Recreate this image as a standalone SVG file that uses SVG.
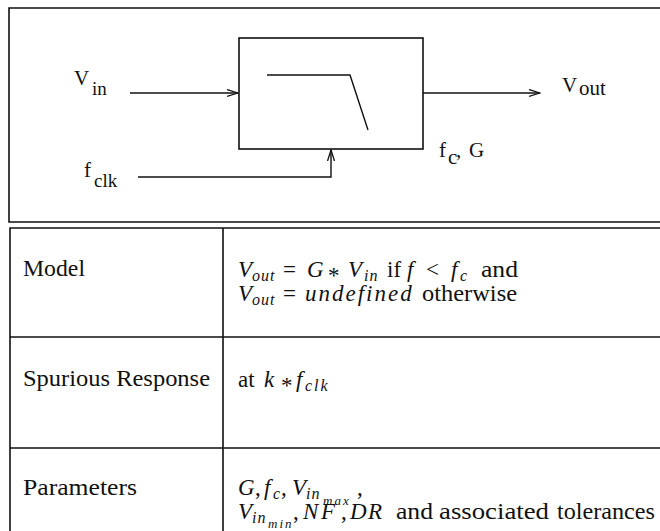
<svg xmlns="http://www.w3.org/2000/svg" width="660" height="531" viewBox="0 0 660 531" font-family="Liberation Serif, serif">
<style>
text{fill:#111}
.frame{fill:none;stroke:#111;stroke-width:1.6}
.ln{fill:none;stroke:#111;stroke-width:1.4}
.lbl{font-size:21px}
.sub{font-size:19px}
.t{font-size:23px}
.i{font-style:italic}
.s{font-size:16px;font-style:italic}
.ss{font-size:13px;font-style:italic;letter-spacing:2px}
</style>
<defs>
<marker id="ah" markerWidth="12" markerHeight="9" refX="11" refY="4" orient="auto" markerUnits="userSpaceOnUse">
<path d="M0,0.5 L11,4 L0,7.5" fill="none" stroke="#111" stroke-width="1.3"/>
</marker>
</defs>
<rect width="660" height="531" fill="#fff"/>

<g id="panel">
<path class="frame" d="M670,8 H9 V222 H670"/>
</g>

<g id="filter">
<rect x="239" y="38" width="184" height="111" class="frame"/>
<polyline class="ln" points="267,75 350,75 368,130"/>
</g>

<g id="vin-label">
<text class="lbl" x="74" y="85">V</text>
<text class="lbl sub" x="92" y="95">in</text>
</g>
<g id="fclk-label">
<text class="lbl" x="84" y="177">f</text>
<text class="lbl sub" x="94" y="187">clk</text>
</g>
<g id="vout-label">
<text class="lbl" x="562" y="92">V</text>
<text class="lbl" x="579" y="95" font-size="19">out</text>
</g>
<g id="fcg-label">
<text class="lbl" x="439" y="157">f</text>
<text class="lbl" x="448" y="164" font-size="16">c</text>
<text class="lbl" x="456" y="157">,</text>
<text class="lbl" x="469" y="157">G</text>
</g>

<g id="connectors">
<line class="ln" x1="130" y1="93" x2="238" y2="93" marker-end="url(#ah)"/>
<line class="ln" x1="423" y1="93" x2="540" y2="93" marker-end="url(#ah)"/>
<polyline class="ln" points="138,177 331,177 331,150" marker-end="url(#ah)"/>
</g>

<g id="table">
<path class="frame" d="M670,228 H10 V531 M223,228 V531 M10,337 H670 M10,448 H670"/>
</g>

<g id="row-model">
<text class="t" x="23" y="276" textLength="62" lengthAdjust="spacingAndGlyphs">Model</text>
<text class="t i" x="238" y="277">V</text>
<text class="t s" x="252" y="281" letter-spacing="1">out</text>
<text class="t" x="283" y="277">=</text>
<text class="t i" x="307" y="277">G</text>
<text class="t" x="328" y="283">*</text>
<text class="t i" x="348" y="277">V</text>
<text class="t s" x="364" y="281" letter-spacing="1">in</text>
<text class="t" x="387" y="277">if</text>
<text class="t i" x="407" y="277">f</text>
<text class="t" x="426" y="277">&lt;</text>
<text class="t i" x="451" y="277">f</text>
<text class="t s" x="460" y="281">c</text>
<text class="t" x="481" y="277" textLength="37" lengthAdjust="spacingAndGlyphs">and</text>
<text class="t i" x="238" y="301">V</text>
<text class="t s" x="252" y="305" letter-spacing="1">out</text>
<text class="t" x="283" y="301">=</text>
<text class="t i" x="305" y="301" letter-spacing="2">undefined</text>
<text class="t" x="422" y="301" textLength="95" lengthAdjust="spacingAndGlyphs">otherwise</text>
</g>

<g id="row-spurious">
<text class="t" x="23" y="386" textLength="187" lengthAdjust="spacingAndGlyphs">Spurious Response</text>
<text class="t" x="238" y="387">at</text>
<text class="t i" x="264" y="387">k</text>
<text class="t" x="281" y="393">*</text>
<text class="t i" x="296" y="387">f</text>
<text class="t s" x="305" y="391" font-size="17" letter-spacing="2">clk</text>
</g>

<g id="row-params">
<text class="t" x="23" y="495" textLength="114" lengthAdjust="spacingAndGlyphs">Parameters</text>
<text class="t i" x="238" y="495">G</text>
<text class="t" x="255" y="495">,</text>
<text class="t i" x="264" y="495">f</text>
<text class="t s" x="273" y="499">c</text>
<text class="t" x="281" y="495">,</text>
<text class="t i" x="292" y="495">V</text>
<text class="t s" x="306" y="499" letter-spacing="1">in</text>
<text class="t ss" x="323" y="505">max</text>
<text class="t" x="357" y="495">,</text>
<text class="t i" x="238" y="519">V</text>
<text class="t s" x="252" y="523" letter-spacing="1">in</text>
<text class="t ss" x="268" y="528">min</text>
<text class="t" x="293" y="519">,</text>
<text class="t i" x="303" y="519">N</text>
<text class="t i" x="321" y="519">F</text>
<text class="t" x="341" y="519">,</text>
<text class="t i" x="350" y="519">D</text>
<text class="t i" x="368" y="519">R</text>
<text class="t" x="396" y="519" textLength="37" lengthAdjust="spacingAndGlyphs">and</text>
<text class="t" x="439" y="519" textLength="110" lengthAdjust="spacingAndGlyphs">associated</text>
<text class="t" x="557" y="519" textLength="98" lengthAdjust="spacingAndGlyphs">tolerances</text>
</g>
</svg>
